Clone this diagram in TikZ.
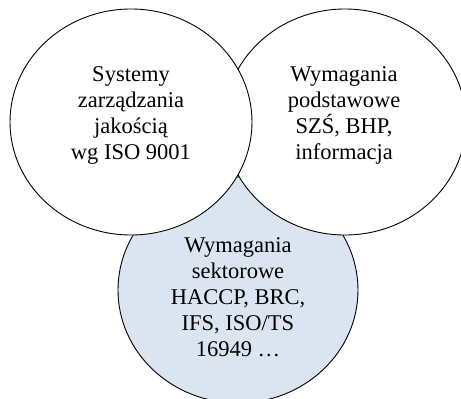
\documentclass[tikz,border=0pt]{standalone}
\usepackage{fontspec}
\setmainfont{Liberation Serif}
\usetikzlibrary{shapes.geometric}
\definecolor{paleblue}{HTML}{DBE5F1}
\tikzset{
  ring/.style={ellipse, draw=black, line width=0.9pt, fill=white, inner sep=0pt,
    minimum width=242pt, minimum height=226pt},
  txt/.style={align=center, font=\fontsize{22.5}{26}\selectfont}
}
\begin{document}
\begin{tikzpicture}[x=1pt, y=-1pt]
\useasboundingbox (0,0) rectangle (461,399);
\clip (0,0) rectangle (461,399);

% the three sets
\node[ring, fill=paleblue, minimum width=240pt] (sect) at (238,290) {};
\node[ring] (req) at (345,122) {};
\node[ring] (sys) at (131,122) {};

% texts
\node[txt] at ([shift={(0,-7)}]sys.center) {Systemy\\zarządzania\\jakością\\wg ISO 9001};
\node[txt] at ([shift={(-1,-7)}]req.center) {Wymagania\\podstawowe\\SZŚ, BHP,\\informacja};
\node[txt] at ([shift={(0,7)}]sect.center) {Wymagania\\sektorowe\\HACCP, BRC,\\IFS, ISO/TS\\16949 …};
\end{tikzpicture}
\end{document}
